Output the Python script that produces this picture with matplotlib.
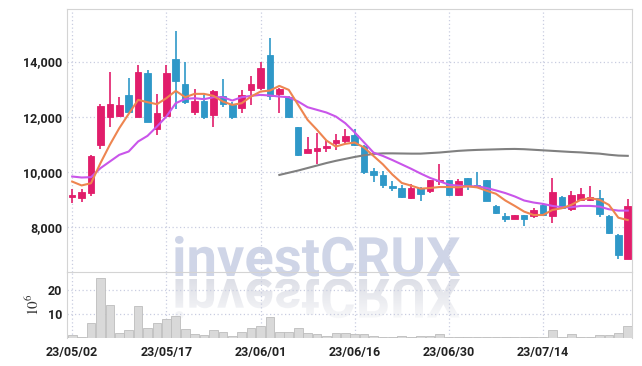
import numpy as np
import matplotlib
matplotlib.use("Agg")
import matplotlib.pyplot as plt
from matplotlib.textpath import TextPath
from matplotlib.patches import PathPatch
from matplotlib.font_manager import FontProperties
from matplotlib.transforms import Affine2D

# --- DATA ---
dates = ["23/05/02", "23/05/17", "23/06/01", "23/06/16", "23/06/30", "23/07/14"]
date_idx = [0, 10, 20, 30, 40, 50]

opens = [9120, 9060, 9260, 10990, 12010, 12040, 12790, 12010, 13580, 11560,
         12030, 14090, 13190, 12160, 12580, 12070, 12760, 12470, 12310, 12980,
         13040, 14240, 12830, 12730, 11620, 10690, 10770, 10870, 11050, 11140,
         11340, 10950, 10040, 9910, 9490, 9430, 9060, 9430, 9330, 9670,
         9710, 9180, 9790, 9540, 9700, 8780, 8410, 8320, 8440, 8410,
         8800, 8430, 9100, 8670, 9000, 9000, 9070, 8410, 7720, 6870]
highs = [9400, 9380, 10620, 12470, 13620, 12700, 13400, 13880, 13700, 12830,
         13880, 15120, 13980, 13000, 12800, 12980, 13360, 12520, 12980, 13460,
         13990, 14850, 13040, 12760, 11650, 11270, 11410, 11150, 11370, 11550,
         11560, 10980, 10160, 10040, 9670, 9550, 9590, 9460, 9710, 10300,
         9730, 9760, 9800, 10000, 9720, 8820, 8510, 8460, 8450, 8700,
         8840, 9790, 9150, 9330, 9430, 9490, 9370, 8440, 7780, 9020]
lows = [8900, 8910, 9150, 10830, 11620, 12000, 12130, 11990, 11800, 11350,
        12000, 12280, 12480, 12070, 11930, 11630, 12370, 11940, 12130, 12430,
        12980, 12610, 12150, 11960, 10600, 10680, 10300, 10720, 10790, 11050,
        10930, 9950, 9650, 9430, 9330, 9060, 9030, 8940, 9240, 9550,
        9150, 9150, 9370, 9490, 8940, 8490, 8190, 8300, 8070, 8340,
        8420, 8170, 8660, 8600, 8960, 8960, 8390, 7780, 6870, 6860]
closes = [9150, 9270, 10590, 12400, 12470, 12430, 12160, 13620, 11830, 12130,
          13580, 13310, 12520, 12580, 12010, 12940, 12470, 12010, 12800, 13190,
          13760, 12760, 13000, 11990, 10620, 10840, 10890, 10930, 11170, 11310,
          10980, 10000, 9890, 9520, 9410, 9090, 9430, 9220, 9700, 9730,
          9180, 9680, 9510, 9500, 8960, 8510, 8320, 8440, 8320, 8630,
          8450, 9270, 8700, 9170, 9220, 9100, 8490, 7800, 6990, 8760]

ma5 = [9660, 9520, 9600, 10325, 10990, 11590, 12108, 12614, 12530, 12458,
       12675, 12940, 12711, 12831, 12831, 12760, 12554, 12433, 12494, 12735,
       12915, 12952, 13120, 12976, 12433, 11891, 11530, 11144, 10927, 11024,
       11072, 10890, 10586, 10281, 9915, 9610, 9512, 9402, 9427, 9463,
       9463, 9451, 9488, 9450, 9329, 9219, 8975, 8780, 8573, 8451,
       8451, 8634, 8695, 8817, 9000, 9061, 9000, 8817, 8353, 8268]
ma20 = [9843, 9807, 9819, 10144, 10385, 10626, 10747, 11108, 11313, 11650,
        12012, 12494, 12650, 12675, 12639, 12711, 12711, 12590, 12711, 12759,
        12795, 12771, 12735, 12711, 12554, 12349, 12253, 12157, 12012, 11771,
        11440, 11074, 10708, 10586, 10439, 10281, 10122, 9951, 9793, 9671,
        9549, 9512, 9488, 9488, 9427, 9341, 9244, 9122, 8975, 8902,
        8853, 8780, 8731, 8731, 8780, 8780, 8756, 8658, 8610, 8610]
ma60 = [np.nan] * 22 + [
        9900, 9980, 10060, 10150, 10240, 10330, 10410, 10480, 10550, 10610,
        10660, 10680, 10680, 10675, 10670, 10670, 10690, 10710, 10740, 10770,
        10790, 10805, 10815, 10825, 10835, 10840, 10830, 10810, 10790, 10770,
        10750, 10730, 10715, 10690, 10670, 10630, 10600, 10590]

volume = [1.0, 0.4, 6.1, 25.0, 13.9, 1.8, 3.1, 13.3, 4.0, 6.1,
          7.7, 9.0, 3.4, 1.4, 1.0, 3.1, 2.3, 0.5, 2.3, 4.0,
          4.8, 8.5, 2.3, 2.3, 4.0, 1.8, 1.4, 0.5, 1.8, 1.8,
          1.4, 1.4, 0.5, 0.3, 0.4, 0.5, 0.3, 0.5, 0.5, 1.4,
          0.3, 0.3, 0.3, 0.4, 0.4, 0.2, 0.2, 0.2, 0.2, 0.2,
          0.2, 3.1, 0.4, 1.4, 0.4, 0.4, 1.0, 1.0, 1.7, 4.8]

price_ticks = [8000, 10000, 12000, 14000]
vol_ticks = [10, 20]

# --- STYLE ---
UP = "#e11d6b"
DOWN = "#2f98c8"
GRID = "#c9cde0"
SPINE = "#d4d4d4"
TICKFONT = dict(family="Roboto", weight="bold", size=9)
plt.rcParams["mathtext.fontset"] = "stix"

W, H = 642, 366
fig = plt.figure(figsize=(W / 100, H / 100), dpi=100)
fig.patch.set_facecolor("white")

ax = fig.add_axes([67 / W, 1 - 272 / H, 565 / W, 263 / H])
axv = fig.add_axes([67 / W, 1 - 337.5 / H, 565 / W, 65.5 / H], sharex=ax)
for a in (ax, axv):
    a.patch.set_alpha(0)
    for s in a.spines.values():
        s.set_color(SPINE)
    a.tick_params(length=0, colors="#222222")
    a.set_axisbelow(True)
axv.spines["bottom"].set_visible(False)
ax.spines["bottom"].set_visible(False)

x = np.arange(len(opens))
o = np.array(opens, float)
c = np.array(closes, float)
up = c >= o
cols = np.where(up, UP, DOWN)

# candles
ax.vlines(x, lows, highs, colors=cols, lw=1.2, zorder=3)
body_lo = np.minimum(o, c)
body_h = np.maximum(np.abs(c - o), 40)
ax.bar(x, body_h, bottom=body_lo, width=0.7, color=cols, edgecolor=cols, lw=0.6, zorder=4)

# moving averages
ax.plot(x, ma60, color="#808080", lw=1.5, zorder=5)
ax.plot(x, ma20, color="#c955ea", lw=1.5, zorder=5)
ax.plot(x, ma5, color="#ee8550", lw=1.5, zorder=6)

ax.set_xlim(-0.55, 59.45)
ax.set_ylim(6390, 15900)
ax.set_yticks(price_ticks)
ax.set_yticklabels([f"{v:,}" for v in price_ticks], fontdict=TICKFONT)
ax.set_xticks(date_idx)
ax.tick_params(axis="x", labelbottom=False)
ax.grid(True, color=GRID, ls=(0, (1, 2)), lw=0.9)

# volume
axv.bar(x, volume, width=0.92, color="#d9d9d9", edgecolor="#bdbdbd", lw=0.6, zorder=3)
axv.set_ylim(0, 27.7)
axv.set_yticks(vol_ticks)
axv.set_yticklabels([str(v) for v in vol_ticks], fontdict=TICKFONT)
axv.set_xticks(date_idx)
axv.set_xticklabels(dates, fontdict=TICKFONT)
axv.tick_params(axis="x", pad=6)
axv.grid(True, color=GRID, ls=(0, (1, 2)), lw=0.9)
axv.set_ylabel(r"$10^6$", fontsize=11, color="#333333", labelpad=4)

# --- WATERMARK (text + fading reflection) ---
wm = fig.add_axes([0, 0, 1, 1], zorder=-1)
wm.set_xlim(0, W)
wm.set_ylim(H, 0)
wm.axis("off")

tp = TextPath((0, 0), "investCRUX", size=56, prop=FontProperties(family="Roboto", weight="bold"))
ext = tp.get_extents()
sc = 285 / ext.width
x0 = 175 - ext.x0 * sc
base = 276
front = PathPatch(tp, transform=Affine2D().scale(sc, -sc).translate(x0, base) + wm.transData,
                  facecolor="#cfd5e7", edgecolor="none")
wm.add_patch(front)

refl = PathPatch(tp, transform=Affine2D().scale(sc, sc).translate(x0, base + 3) + wm.transData,
                 facecolor="none", edgecolor="none")
wm.add_patch(refl)
grad = np.zeros((100, 2, 4))
grad[..., :3] = np.array([0.86, 0.87, 0.90])
grad[..., 3] = np.linspace(0.95, 0.0, 100)[:, None]
im = wm.imshow(grad, extent=[150, 480, base + 3 + 50, base + 3], aspect="auto",
               interpolation="bilinear")
im.set_clip_path(refl)
wm.set_xlim(0, W)
wm.set_ylim(H, 0)

fig.savefig("out.png", dpi=100, facecolor="white")
